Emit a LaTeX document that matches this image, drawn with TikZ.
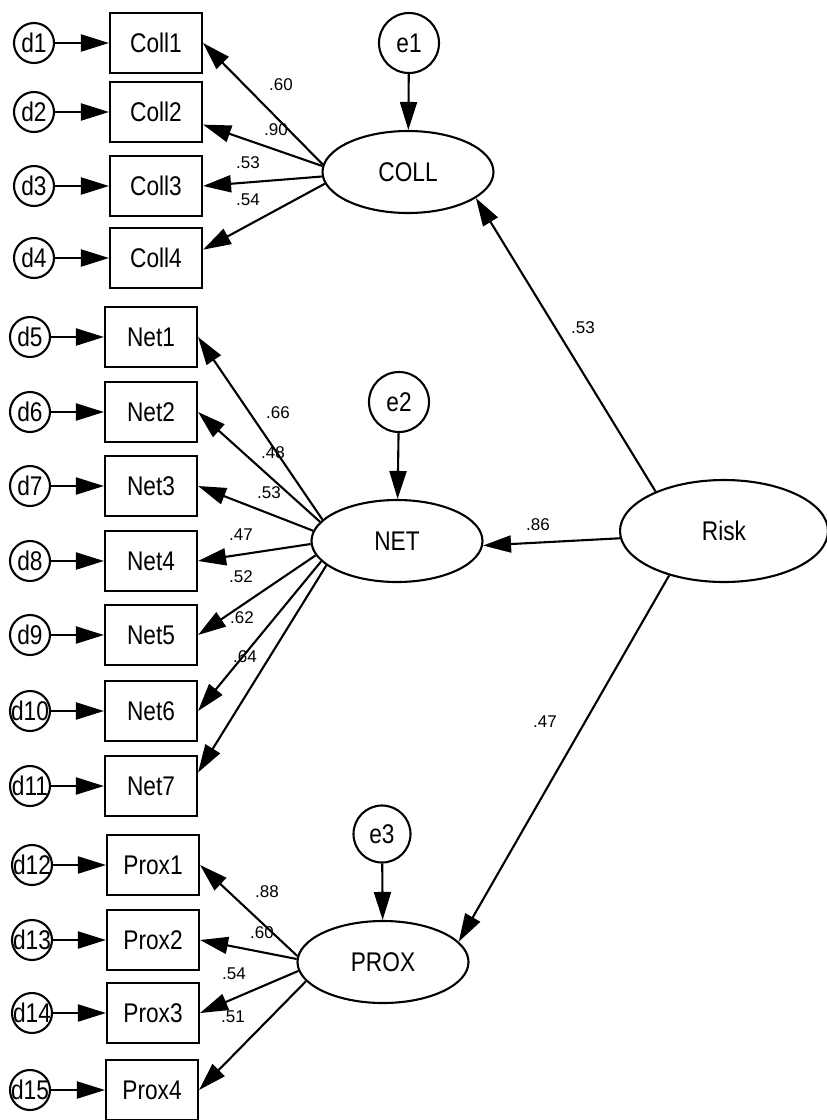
\documentclass[tikz,border=0pt]{standalone}
\usepackage{fontspec}
\setmainfont{Liberation Sans}
\newfontfamily\tallfont{Liberation Sans}[FakeStretch=0.84]
\usetikzlibrary{arrows.meta, shapes}

\newcommand{\dl}[1]{\makebox[0pt]{d#1}}

\begin{document}
\begin{tikzpicture}[x=1pt, y=-1pt, line width=2.1pt,
  obs/.style={rectangle, draw, minimum width=92pt, minimum height=60pt, font=\tallfont\fontsize{27}{30}\selectfont},
  err/.style={circle, draw, minimum size=40pt, inner sep=0pt, font=\tallfont\fontsize{27}{30}\selectfont},
  res/.style={circle, draw, minimum size=60pt, inner sep=0pt, font=\tallfont\fontsize{27}{30}\selectfont},
  lat/.style={ellipse, draw, minimum width=171pt, minimum height=82pt, font=\tallfont\fontsize{27}{30}\selectfont},
  load/.style={font=\fontsize{17}{20}\selectfont},
  >={Triangle[length=28pt, width=17pt]}]
\useasboundingbox (0,0) rectangle (827,1120);

% COLL block
\node[obs] (C1) at (156,43)  {Coll1};
\node[obs] (C2) at (156,112) {Coll2};
\node[obs] (C3) at (156,186) {Coll3};
\node[obs] (C4) at (156,258) {Coll4};
\node[err] (d1) at (34,43)  {\dl{1}};
\node[err] (d2) at (34,112) {\dl{2}};
\node[err] (d3) at (34,186) {\dl{3}};
\node[err] (d4) at (34,258) {\dl{4}};
\node[res] (e1) at (409,43) {e1};
\node[lat] (COLL) at (408,172) {COLL};

% NET block
\node[obs] (N1) at (151,337) {Net1};
\node[obs] (N2) at (151,412) {Net2};
\node[obs] (N3) at (151,486) {Net3};
\node[obs] (N4) at (151,561) {Net4};
\node[obs] (N5) at (151,635) {Net5};
\node[obs] (N6) at (151,711) {Net6};
\node[obs] (N7) at (151,786) {Net7};
\node[err] (d5)  at (30,337) {\dl{5}};
\node[err] (d6)  at (30,412) {\dl{6}};
\node[err] (d7)  at (30,486) {\dl{7}};
\node[err] (d8)  at (30,561) {\dl{8}};
\node[err] (d9)  at (30,635) {\dl{9}};
\node[err] (d10) at (30,711) {\dl{10}};
\node[err] (d11) at (30,786) {\dl{11}};
\node[res] (e2) at (399,402) {e2};
\node[lat] (NET) at (397,541) {NET};

% PROX block
\node[obs] (P1) at (153,865)  {Prox1};
\node[obs] (P2) at (153,940)  {Prox2};
\node[obs] (P3) at (153,1013) {Prox3};
\node[obs] (P4) at (152,1090) {Prox4};
\node[err] (d12) at (32,865)  {\dl{12}};
\node[err] (d13) at (32,940)  {\dl{13}};
\node[err] (d14) at (32,1013) {\dl{14}};
\node[err] (d15) at (30,1090) {\dl{15}};
\node[res, minimum size=57pt] (e3) at (382,834) {e3};
\node[lat] (PROX) at (383,962) {PROX};

\node[lat, minimum width=208pt, minimum height=102pt] (Risk) at (724,531) {Risk};

% errors
\draw[->] (d1) -- (C1);
\draw[->] (d2) -- (C2);
\draw[->] (d3) -- (C3);
\draw[->] (d4) -- (C4);
\draw[->] (d5) -- (N1);
\draw[->] (d6) -- (N2);
\draw[->] (d7) -- (N3);
\draw[->] (d8) -- (N4);
\draw[->] (d9) -- (N5);
\draw[->] (d10) -- (N6);
\draw[->] (d11) -- (N7);
\draw[->] (d12) -- (P1);
\draw[->] (d13) -- (P2);
\draw[->] (d14) -- (P3);
\draw[->] (d15) -- (P4);
\draw[->] (e1) -- (COLL);
\draw[->] (e2) -- (NET);
\draw[->] (e3) -- (PROX);

% loadings
\draw[->] (COLL.175) -- (C1.east);
\draw[->] (COLL.176) -- (C2.-15);
\draw[->] (COLL.183) -- (C3.east);
\draw[->] (COLL.188) -- (C4.10);
\draw[->] (NET.164) -- (N1.east);
\draw[->] (NET.166) -- (N2.east);
\draw[->] (NET.173) -- (N3.east);
\draw[->] (NET.182) -- (N4.east);
\draw[->] (NET.190) -- (N5.east);
\draw[->] (NET.195) -- (N6.east);
\draw[->] (NET.199) -- (N7.16);
\draw[->] (PROX.176) -- (P1.east);
\draw[->] (PROX.178) -- (P2.east);
\draw[->] (PROX.186) -- (P3.east);
\draw[->] (PROX.194) -- (P4.east);

% structural paths
\draw[->] (Risk.150) -- (COLL.-21);
\draw[->] (Risk.184) -- (NET.-3);
\draw[->] (Risk.219) -- (PROX.15);

\node[load] (lc1) at (281,85)  {.60};
\node[load] (lc2) at (276,130) {.90};
\node[load] (lc3) at (248,163) {.53};
\node[load] (lc4) at (248,200) {.54};
\node[load] (ln1) at (278,413) {.66};
\node[load] (ln2) at (273,453) {.48};
\node[load] (ln3) at (269,493) {.53};
\node[load] (ln4) at (241,535) {.47};
\node[load] (ln5) at (241,577) {.52};
\node[load] (ln6) at (242,618) {.62};
\node[load] (ln7) at (245,657) {.64};
\node[load] (lp1) at (267,892)  {.88};
\node[load] (lp2) at (262,933)  {.60};
\node[load] (lp3) at (234,974)  {.54};
\node[load] (lp4) at (233,1017) {.51};
\node[load] (lr1) at (583,328) {.53};
\node[load] (lr2) at (538,525) {.86};
\node[load] (lr3) at (545,722) {.47};
\end{tikzpicture}
\end{document}
